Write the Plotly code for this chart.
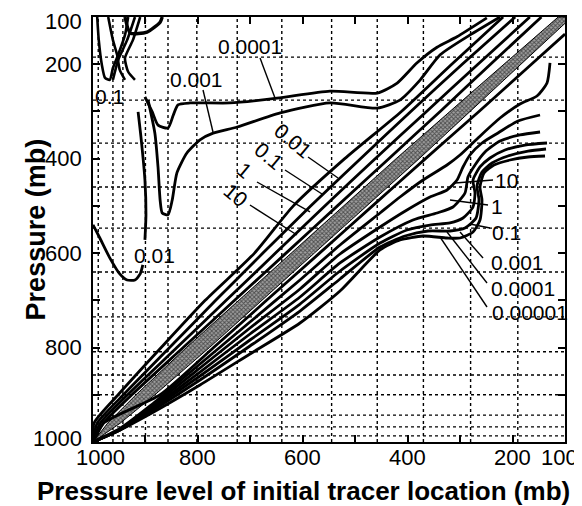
import plotly.graph_objects as go

# ---------------- data (pressure in mb) ----------------
x_ticks = [1000, 900, 800, 700, 600, 500, 400, 300, 200, 100]
x_label_vals = [1000, 800, 600, 400, 200, 100]
x_label_text = ["1000", "800", "600", "400", "200", "100"]
y_ticks = [1000, 900, 800, 700, 600, 500, 400, 300, 200, 100]
y_label_vals = [1000, 800, 600, 400, 200, 100]
y_label_text = ["1000", "800", "600", "400", "200", "100"]

x_grid = [990, 962, 943, 900, 857, 802, 725, 640, 545, 458, 370, 280, 190]
y_grid = [987, 968, 943, 900, 858, 809, 735, 640, 547, 460, 367, 276, 185]

# shaded band around the diagonal (initial tracer location)
band_y = [1000, 960, 900, 800, 600, 400, 250, 100]
band_x_left = [1000, 972, 918, 822, 622, 422, 268, 113]
band_x_right = [1000, 948, 882, 778, 578, 378, 232, 87]

# upper-left contours (tracer moved upward)
ul_y = [1000, 960, 900, 800, 700, 600, 500, 400, 300, 200, 100]
ul_10_x = [1000, 980, 926, 828, 730, 632, 534, 436, 338, 242, 145]
ul_1_x = [1000, 986, 934, 840, 746, 652, 558, 462, 364, 266, 167]
ul_01_x = [1000, 992, 942, 854, 766, 676, 585, 490, 394, 296, 195]
ul_001_x = [1000, 998, 952, 870, 786, 692, 618, 520, 412, 316, 218]

c0001_x = [895, 882, 876, 872, 868, 857, 849, 840, 821, 796, 771, 725, 643, 548, 458, 415, 376, 338, 281, 224]
c0001_y = [276, 346, 418, 488, 515, 519, 488, 430, 388, 360, 346, 333, 303, 282, 293, 276, 233, 180, 138, 100]
c00001_x = [901, 887, 876, 857, 847, 838, 815, 739, 649, 548, 458, 420, 382, 344, 306, 249]
c00001_y = [269, 301, 329, 335, 308, 286, 282, 282, 272, 257, 261, 240, 197, 164, 142, 102]

c001v_x = [914, 908, 901, 899, 901]
c001v_y = [301, 360, 445, 519, 572]
c001h_x = [1000, 987, 968, 949, 935, 920, 910, 905]
c001h_y = [540, 568, 610, 644, 657, 657, 644, 625]

# small contours in the upper-left corner
tl_a_x = [992, 989, 983, 977, 968, 962, 952, 939, 933]
tl_a_y = [100, 149, 202, 229, 233, 208, 180, 138, 100]
tl_b_x = [971, 962, 954, 949, 939]
tl_b_y = [100, 149, 180, 212, 233]
tl_c_x = [920, 935, 952, 962]
tl_c_y = [100, 149, 191, 233]
tl_d_x = [910, 924, 939, 933, 920]
tl_d_y = [100, 149, 187, 216, 233]
tl_e_x = [939, 929, 897, 872, 868]
tl_e_y = [100, 134, 132, 111, 100]

# lower-right contours (tracer moved downward)
lr_10_y = [1000, 960, 900, 800, 700, 600, 500, 400, 300, 200, 136]
lr_10_x = [1000, 980, 872, 770, 669, 568, 467, 366, 264, 164, 100]
lr_1_x = [1000, 948.5, 891.3, 796.0, 700.7, 605.3, 529.0, 452.7, 414.6, 370.7, 325.0, 300.2, 265.9, 223.9, 185.8, 153.4, 134.3, 128.6]
lr_1_y = [1000, 971.4, 923.7, 834.8, 745.9, 656.9, 582.8, 515.0, 481.2, 445.2, 413.4, 392.2, 356.2, 313.9, 284.2, 267.3, 239.8, 197.4]
lr_01_x = [1000, 948.5, 891.3, 796.0, 700.7, 605.3, 529.0, 452.7, 401.3, 357.4, 325.0, 305.9, 294.5, 281.2, 258.3, 227.7, 189.6, 147.6]
lr_01_y = [1000, 972.5, 926.9, 843.3, 758.6, 676.0, 601.9, 544.7, 508.7, 481.2, 466.3, 445.2, 417.6, 392.2, 366.8, 345.6, 320.2, 307.5]
lr_001_x = [1000, 948.5, 891.3, 796.0, 700.7, 605.3, 529.0, 452.7, 389.8, 344.0, 313.6, 290.7, 285.0, 271.6, 252.5, 223.9, 185.8, 147.6]
lr_001_y = [1000, 973.6, 930.1, 851.8, 771.3, 692.9, 620.9, 565.9, 529.9, 515.0, 502.3, 472.7, 438.8, 413.4, 385.9, 362.6, 349.8, 343.5]
lr_0001_x = [1000, 948.5, 891.3, 796.0, 700.7, 605.3, 529.0, 452.7, 401.3, 357.4, 319.3, 294.5, 275.4, 271.6, 275.4, 262.1, 243.0, 214.4, 176.3, 134.3]
lr_0001_y = [1000, 974.6, 933.3, 860.2, 784.0, 707.8, 637.9, 578.6, 551.0, 540.5, 536.2, 525.6, 502.3, 472.7, 445.2, 417.6, 398.6, 381.6, 371.1, 366.8]
lr_00001_x = [1000, 948.5, 891.3, 796.0, 700.7, 605.3, 529.0, 452.7, 405.1, 361.2, 319.3, 290.7, 269.7, 264.0, 267.8, 258.3, 239.2, 208.7, 170.5, 136.2]
lr_00001_y = [1000, 974.6, 936.5, 868.7, 796.7, 722.6, 654.8, 587.1, 563.8, 553.2, 553.2, 546.8, 525.6, 487.5, 457.9, 428.2, 409.2, 394.3, 383.8, 379.5]
lr_000001_x = [1000, 948.5, 891.3, 796.0, 700.7, 605.3, 529.0, 452.7, 414.6, 370.7, 325.0, 300.2, 275.4, 262.1, 258.3, 262.1, 254.4, 235.4, 204.8, 170.5, 138.1]
lr_000001_y = [1000, 974.6, 940.7, 879.3, 813.6, 748.0, 680.2, 593.4, 572.2, 563.8, 568.0, 568.0, 555.3, 529.9, 487.5, 460.0, 430.3, 413.4, 402.8, 396.5, 394.3]

# contour labels: text, position, rotation, leader line (x0, y0, x1, y1)
labels = [
    ("0.0001", 700.6, 163.5, 0, (681.5, 186.8, 653.0, 271.5)),
    ("0.001", 803.6, 231.3, 0, (790.2, 254.6, 771.2, 343.5)),
    ("0.1", 967.6, 267.3, 0, None),
    ("0.01", 881.8, 604.0, 0, None),
    ("0.01", 618.6, 360.5, 40, (590.0, 396.5, 532.8, 440.9)),
    ("0.1", 666.3, 394.3, 40, (633.9, 424.0, 563.3, 474.8)),
    ("1", 710.2, 424.0, 40, (687.3, 449.4, 586.2, 512.9)),
    ("10", 729.2, 476.9, 40, (700.7, 498.1, 611.0, 561.6)),
    ("10", 212.5, 445.2, 0, (237.3, 445.2, 309.7, 451.5)),
    ("1", 229.6, 502.3, 0, (246.8, 498.1, 319.3, 487.5)),
    ("0.1", 212.5, 555.3, 0, (243.0, 546.8, 281.2, 538.3)),
    ("0.001", 191.5, 620.9, 0, (256.3, 610.4, 300.2, 555.3)),
    ("0.0001", 180.1, 673.9, 0, (248.7, 663.3, 325.0, 555.3)),
    ("0.00001", 166.7, 726.8, 0, (248.7, 714.1, 338.3, 565.9)),
]

FONT = "Liberation Sans, Arial, Helvetica, sans-serif"

# ---------------- figure ----------------
fig = go.Figure()

# band
fig.add_trace(go.Scatter(
    x=band_x_left + band_x_right[::-1], y=band_y + band_y[::-1],
    mode="lines", fill="toself", line=dict(color="black", width=1),
    fillcolor="#666666",
    fillpattern=dict(shape="x", size=3, solidity=0.55, fgcolor="#000000", bgcolor="#a0a0a0"),
    hoverinfo="skip", showlegend=False))

def add_line(xs, ys, width=2.8):
    fig.add_trace(go.Scatter(x=xs, y=ys, mode="lines",
                             line=dict(color="black", width=width, shape="spline", smoothing=0.6),
                             hoverinfo="skip", showlegend=False))

for xs in (ul_10_x, ul_1_x, ul_01_x, ul_001_x):
    add_line(xs, ul_y)
add_line(lr_10_x, lr_10_y)
add_line(c0001_x, c0001_y)
add_line(c00001_x, c00001_y)
add_line(c001v_x, c001v_y)
add_line(c001h_x, c001h_y)
for xs, ys in ((tl_a_x, tl_a_y), (tl_b_x, tl_b_y), (tl_c_x, tl_c_y), (tl_d_x, tl_d_y)):
    add_line(xs, ys, 2.6)
add_line(tl_e_x, tl_e_y, 3.4)
for xs, ys in ((lr_1_x, lr_1_y), (lr_01_x, lr_01_y), (lr_001_x, lr_001_y),
               (lr_0001_x, lr_0001_y), (lr_00001_x, lr_00001_y), (lr_000001_x, lr_000001_y)):
    add_line(xs, ys)

# leader lines + labels
for text, lx, ly, ang, lead in labels:
    if lead:
        fig.add_trace(go.Scatter(x=[lead[0], lead[2]], y=[lead[1], lead[3]], mode="lines",
                                 line=dict(color="black", width=1.4),
                                 hoverinfo="skip", showlegend=False))
    fig.add_annotation(x=lx, y=ly, xref="x", yref="y", text=text, showarrow=False,
                       textangle=ang, font=dict(family=FONT, size=21, color="black"))

# x tick labels (end ones nudged so they stay clear of the page edge / y labels)
x_shift = {1000: 7, 100: -6}
for v, t in zip(x_label_vals, x_label_text):
    fig.add_annotation(x=v, y=0, xref="x", yref="paper", text=t, showarrow=False,
                       yanchor="top", yshift=-1, xshift=x_shift.get(v, 0),
                       font=dict(family=FONT, size=22, color="black"))

# y tick labels (end ones nudged to stay inside the page / clear of x labels)
y_shift = {1000: 4, 100: -4}
for v, t in zip(y_label_vals, y_label_text):
    fig.add_annotation(x=0, y=v, xref="paper", yref="y", text=t, showarrow=False,
                       xanchor="right", xshift=-9, yshift=y_shift.get(v, 0),
                       font=dict(family=FONT, size=22, color="black"))

# dotted grid
shapes = []
for gx in x_grid:
    shapes.append(dict(type="line", xref="x", yref="y", x0=gx, x1=gx, y0=1000, y1=100,
                       line=dict(color="black", width=1.4, dash="dot"), layer="below"))
for gy in y_grid:
    shapes.append(dict(type="line", xref="x", yref="y", x0=1000, x1=100, y0=gy, y1=gy,
                       line=dict(color="black", width=1.4, dash="dot"), layer="below"))

# the page body adds an 8px offset, so the figure is 8px smaller than the window
fig.update_layout(
    width=574, height=498,
    margin=dict(l=85, r=17, t=9, b=64, autoexpand=False),
    paper_bgcolor="white", plot_bgcolor="white",
    shapes=shapes,
    font=dict(family=FONT, size=22, color="black"),
    xaxis=dict(range=[1000, 100], tickvals=x_ticks, ticktext=[""] * len(x_ticks),
               ticks="inside", ticklen=7, tickwidth=1.5, tickcolor="black",
               showline=True, linecolor="black", linewidth=1.8, mirror="ticks",
               showgrid=False, zeroline=False, automargin=False),
    yaxis=dict(range=[1000, 100], tickvals=y_ticks, ticktext=[""] * len(y_ticks),
               ticks="inside", ticklen=7, tickwidth=1.5, tickcolor="black",
               showline=True, linecolor="black", linewidth=1.8, mirror="ticks",
               showgrid=False, zeroline=False, automargin=False),
)

fig.add_annotation(text="<b>Pressure level of initial tracer location (mb)</b>",
                   xref="paper", yref="paper", x=0.445, y=-0.115, showarrow=False,
                   yanchor="middle", font=dict(size=26, family=FONT))
fig.add_annotation(text="<b>Pressure (mb)</b>", xref="paper", yref="paper",
                   x=-0.157, y=0.5, showarrow=False, textangle=-90,
                   font=dict(size=27, family=FONT))

fig.write_html("out.html")
